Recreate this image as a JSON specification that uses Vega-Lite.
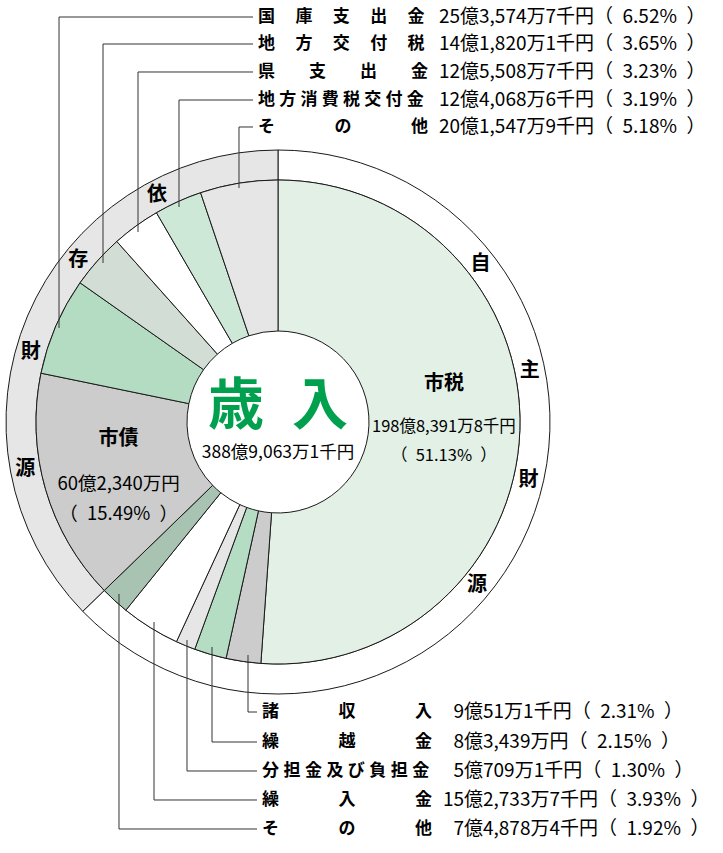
{
  "$schema": "https://vega.github.io/schema/vega-lite/v6.json",
  "width": 556,
  "height": 844,
  "autosize": {"type": "none"},
  "padding": {"left": 0, "top": 0, "right": 167, "bottom": 9},
  "background": "white",
  "config": {"view": {"stroke": null}},
  "datasets": {
    "items": [
      {"key": "k01", "name": "市税", "label": "市税", "grp": "自主財源", "ord": 1, "v": 19883918, "pct": 51.13},
      {"key": "k02", "name": "諸収入", "label": "諸\u3000\u3000\u3000\u2002収\u3000\u3000\u3000\u2002入", "grp": "自主財源", "ord": 2, "v": 900511, "pct": 2.31},
      {"key": "k03", "name": "繰越金", "label": "繰\u3000\u3000\u3000\u2002越\u3000\u3000\u3000\u2002金", "grp": "自主財源", "ord": 3, "v": 834390, "pct": 2.15},
      {"key": "k04", "name": "分担金及び負担金", "label": "分\u2009\u200A担\u2009\u200A金\u2009\u200A及\u2009\u200Aび\u2009\u200A負\u2009\u200A担\u2009\u200A金", "grp": "自主財源", "ord": 4, "v": 507091, "pct": 1.30},
      {"key": "k05", "name": "繰入金", "label": "繰\u3000\u3000\u3000\u2002入\u3000\u3000\u3000\u2002金", "grp": "自主財源", "ord": 5, "v": 1527337, "pct": 3.93},
      {"key": "k06", "name": "その他", "label": "そ\u3000\u3000\u3000\u2002の\u3000\u3000\u3000\u2002他", "grp": "自主財源", "ord": 6, "v": 748784, "pct": 1.92},
      {"key": "k07", "name": "市債", "label": "市債", "grp": "依存財源", "ord": 7, "v": 6023400, "pct": 15.49},
      {"key": "k08", "name": "国庫支出金", "label": "国\u3000\u2009庫\u3000\u2009支\u3000\u2009出\u3000\u2009金", "grp": "依存財源", "ord": 8, "v": 2535747, "pct": 6.52},
      {"key": "k09", "name": "地方交付税", "label": "地\u3000\u2009方\u3000\u2009交\u3000\u2009付\u3000\u2009税", "grp": "依存財源", "ord": 9, "v": 1418201, "pct": 3.65},
      {"key": "k10", "name": "県支出金", "label": "県\u3000\u3000支\u3000\u3000出\u3000\u3000金", "grp": "依存財源", "ord": 10, "v": 1255087, "pct": 3.23},
      {"key": "k11", "name": "地方消費税交付金", "label": "地\u2005方\u2005消\u2005費\u2005税\u2005交\u2005付\u2005金", "grp": "依存財源", "ord": 11, "v": 1240686, "pct": 3.19},
      {"key": "k12", "name": "その他", "label": "そ\u3000\u3000\u3000\u2002の\u3000\u3000\u3000\u2002他", "grp": "依存財源", "ord": 12, "v": 2015479, "pct": 5.18}
    ],
    "leaders": [
      {"key": "k08", "s": 0, "u": -0.8051, "v": 0.3456}, {"key": "k08", "s": 1, "u": -0.8051, "v": 1.4890}, {"key": "k08", "s": 2, "u": -0.0919, "v": 1.4890},
      {"key": "k09", "s": 0, "u": -0.6434, "v": 0.5846}, {"key": "k09", "s": 1, "u": -0.6434, "v": 1.3897}, {"key": "k09", "s": 2, "u": -0.0919, "v": 1.3897},
      {"key": "k10", "s": 0, "u": -0.5147, "v": 0.6985}, {"key": "k10", "s": 1, "u": -0.5147, "v": 1.2868}, {"key": "k10", "s": 2, "u": -0.0919, "v": 1.2868},
      {"key": "k11", "s": 0, "u": -0.3640, "v": 0.7904}, {"key": "k11", "s": 1, "u": -0.3640, "v": 1.1838}, {"key": "k11", "s": 2, "u": -0.0919, "v": 1.1838},
      {"key": "k12", "s": 0, "u": -0.1434, "v": 0.8603}, {"key": "k12", "s": 1, "u": -0.1434, "v": 1.0846}, {"key": "k12", "s": 2, "u": -0.0919, "v": 1.0846},
      {"key": "k02", "s": 0, "u": -0.1103, "v": -0.8566}, {"key": "k02", "s": 1, "u": -0.1103, "v": -1.0662}, {"key": "k02", "s": 2, "u": -0.0772, "v": -1.0662},
      {"key": "k03", "s": 0, "u": -0.2426, "v": -0.8272}, {"key": "k03", "s": 1, "u": -0.2426, "v": -1.1765}, {"key": "k03", "s": 2, "u": -0.0772, "v": -1.1765},
      {"key": "k04", "s": 0, "u": -0.3346, "v": -0.8015}, {"key": "k04", "s": 1, "u": -0.3346, "v": -1.2831}, {"key": "k04", "s": 2, "u": -0.0772, "v": -1.2831},
      {"key": "k05", "s": 0, "u": -0.4559, "v": -0.7353}, {"key": "k05", "s": 1, "u": -0.4559, "v": -1.3897}, {"key": "k05", "s": 2, "u": -0.0772, "v": -1.3897},
      {"key": "k06", "s": 0, "u": -0.5846, "v": -0.6324}, {"key": "k06", "s": 1, "u": -0.5846, "v": -1.4963}, {"key": "k06", "s": 2, "u": -0.0772, "v": -1.4963}
    ],
    "ring": [
      {"ch": "自", "deg": 52}, {"ch": "主", "deg": 78.5}, {"ch": "財", "deg": 103}, {"ch": "源", "deg": 129.3},
      {"ch": "依", "deg": 331.9}, {"ch": "存", "deg": 309}, {"ch": "財", "deg": 285.8}, {"ch": "源", "deg": 259.5}
    ]
  },
  "resolve": {"scale": {"theta": "independent", "color": "independent"}},
  "layer": [
    {
      "data": {"name": "items"},
      "transform": [{"aggregate": [{"op": "sum", "field": "v", "as": "v"}, {"op": "min", "field": "ord", "as": "ord"}], "groupby": ["grp"]}],
      "mark": {"type": "arc", "outerRadius": 272, "innerRadius": 242, "stroke": "#1a1a1a", "strokeWidth": 1},
      "encoding": {
        "theta": {"field": "v", "type": "quantitative", "stack": true},
        "order": {"field": "ord", "type": "quantitative"},
        "color": {"field": "grp", "type": "nominal", "scale": {"domain": ["自主財源", "依存財源"], "range": ["#ffffff", "#e6e6e6"]}, "legend": null}
      }
    },
    {
      "data": {"name": "items"},
      "mark": {"type": "arc", "outerRadius": 242, "innerRadius": 91, "stroke": "#1a1a1a", "strokeWidth": 1},
      "encoding": {
        "theta": {"field": "v", "type": "quantitative", "stack": true},
        "order": {"field": "ord", "type": "quantitative"},
        "color": {"field": "key", "type": "nominal", "scale": {"domain": ["k01","k02","k03","k04","k05","k06","k07","k08","k09","k10","k11","k12"], "range": ["#e2f0e6","#cccccc","#b4ddc4","#e6e6e6","#ffffff","#a9c3b3","#cccccc","#b3dcc2","#d1ddd5","#ffffff","#cde8d7","#e6e6e6"]}, "legend": null}
      }
    },
    {
      "data": {"name": "leaders"},
      "mark": {"type": "line", "color": "#333333", "strokeWidth": 1},
      "encoding": {
        "x": {"field": "u", "type": "quantitative", "scale": {"domain": [-1.0221, 1.0221], "nice": false, "zero": false}, "axis": null},
        "y": {"field": "v", "type": "quantitative", "scale": {"domain": [-1.5515, 1.5515], "nice": false, "zero": false}, "axis": null},
        "detail": {"field": "key"},
        "order": {"field": "s", "type": "quantitative"}
      }
    },
    {
      "data": {"name": "ring"},
      "mark": {"type": "text", "radius": 257, "font": "Noto Sans CJK JP", "fontWeight": "bold", "fontSize": 20, "color": "#000000", "align": "center", "baseline": "middle"},
      "encoding": {
        "theta": {"field": "deg", "type": "quantitative", "scale": {"domain": [0, 360], "range": [0, 6.283185], "zero": true, "nice": false}},
        "text": {"field": "ch"}
      }
    },
    {
      "data": {"name": "items"},
      "mark": {"type": "text", "radius": 166, "dy": -44, "font": "Noto Sans CJK JP", "fontWeight": "bold", "fontSize": 20, "color": "#000000", "align": "center", "baseline": "middle"},
      "encoding": {
        "theta": {"field": "v", "type": "quantitative", "stack": true},
        "order": {"field": "ord", "type": "quantitative"},
        "text": {"condition": {"test": "datum.key === 'k01'", "field": "name"}, "value": ""}
      }
    },
    {
      "data": {"name": "items"},
      "transform": [
        {"calculate": "floor(datum.v/100000) + '億' + format(floor((datum.v%100000)/10), ',') + '万' + (datum.v%10 > 0 ? (datum.v%10) + '千' : '') + '円'", "as": "amt"},
        {"calculate": "datum.amt + '\\n' + '（\u2002' + format(datum.pct, '.2f') + '%\u2002）'", "as": "det"}
      ],
      "mark": {"type": "text", "radius": 166, "dy": -1, "lineBreak": "\n", "lineHeight": 29, "font": "Noto Sans CJK JP", "fontSize": 16.5, "color": "#000000", "align": "center", "baseline": "middle"},
      "encoding": {
        "theta": {"field": "v", "type": "quantitative", "stack": true},
        "order": {"field": "ord", "type": "quantitative"},
        "text": {"condition": {"test": "datum.key === 'k01'", "field": "det"}, "value": ""}
      }
    },
    {
      "data": {"name": "items"},
      "mark": {"type": "text", "radius": 166, "dy": -29, "font": "Noto Sans CJK JP", "fontWeight": "bold", "fontSize": 20, "color": "#000000", "align": "center", "baseline": "middle"},
      "encoding": {
        "theta": {"field": "v", "type": "quantitative", "stack": true},
        "order": {"field": "ord", "type": "quantitative"},
        "text": {"condition": {"test": "datum.key === 'k07'", "field": "name"}, "value": ""}
      }
    },
    {
      "data": {"name": "items"},
      "transform": [
        {"calculate": "floor(datum.v/100000) + '億' + format(floor((datum.v%100000)/10), ',') + '万' + (datum.v%10 > 0 ? (datum.v%10) + '千' : '') + '円'", "as": "amt"},
        {"calculate": "datum.amt + '\\n' + '（\u2002' + format(datum.pct, '.2f') + '%\u2002）'", "as": "det"}
      ],
      "mark": {"type": "text", "radius": 166, "dy": 16, "lineBreak": "\n", "lineHeight": 30, "font": "Noto Sans CJK JP", "fontSize": 18.5, "color": "#000000", "align": "center", "baseline": "middle"},
      "encoding": {
        "theta": {"field": "v", "type": "quantitative", "stack": true},
        "order": {"field": "ord", "type": "quantitative"},
        "text": {"condition": {"test": "datum.key === 'k07'", "field": "det"}, "value": ""}
      }
    },
    {
      "data": {"name": "items"},
      "transform": [{"aggregate": [{"op": "sum", "field": "v", "as": "v"}]}],
      "mark": {"type": "text", "text": "歳\u2002入", "dy": -15, "font": "Noto Sans CJK JP", "fontWeight": "bold", "fontSize": 56, "color": "#00a04e", "align": "center", "baseline": "middle"}
    },
    {
      "data": {"name": "items"},
      "transform": [
        {"aggregate": [{"op": "sum", "field": "v", "as": "v"}]},
        {"calculate": "floor(datum.v/100000) + '億' + format(floor((datum.v%100000)/10), ',') + '万' + (datum.v%10 > 0 ? (datum.v%10) + '千' : '') + '円'", "as": "amt"}
      ],
      "mark": {"type": "text", "dy": 31, "font": "Noto Sans CJK JP", "fontSize": 17.5, "color": "#000000", "align": "center", "baseline": "middle"},
      "encoding": {"text": {"field": "amt"}}
    },
    {
      "data": {"name": "leaders"},
      "transform": [
        {"filter": "datum.s === 2"},
        {"lookup": "key", "from": {"data": {"name": "items"}, "key": "key", "fields": ["label", "pct"]}}
      ],
      "mark": {"type": "text", "dx": 5, "font": "Noto Sans CJK JP", "fontWeight": "bold", "fontSize": 17, "color": "#000000", "align": "left", "baseline": "middle"},
      "encoding": {
        "x": {"field": "u", "type": "quantitative", "scale": {"domain": [-1.0221, 1.0221], "nice": false, "zero": false}, "axis": null},
        "y": {"field": "v", "type": "quantitative", "scale": {"domain": [-1.5515, 1.5515], "nice": false, "zero": false}, "axis": null},
        "text": {"field": "label"}
      }
    },
    {
      "data": {"name": "leaders"},
      "transform": [
        {"filter": "datum.s === 2"},
        {"lookup": "key", "from": {"data": {"name": "items"}, "key": "key", "fields": ["v", "pct"]}, "as": ["amount", "pct"]},
        {"calculate": "'' + floor(datum.amount/100000)", "as": "oku"}
      ],
      "mark": {"type": "text", "dx": 207, "font": "Noto Sans CJK JP", "fontSize": 19, "color": "#000000", "align": "right", "baseline": "middle"},
      "encoding": {
        "x": {"field": "u", "type": "quantitative", "scale": {"domain": [-1.0221, 1.0221], "nice": false, "zero": false}, "axis": null},
        "y": {"field": "v", "type": "quantitative", "scale": {"domain": [-1.5515, 1.5515], "nice": false, "zero": false}, "axis": null},
        "text": {"field": "oku"}
      }
    },
    {
      "data": {"name": "leaders"},
      "transform": [
        {"filter": "datum.s === 2"},
        {"lookup": "key", "from": {"data": {"name": "items"}, "key": "key", "fields": ["v", "pct"]}, "as": ["amount", "pct"]},
        {"calculate": "'億' + format(floor((datum.amount%100000)/10), ',') + '万' + (datum.amount%10 > 0 ? (datum.amount%10) + '千' : '') + '円（\u2002' + format(datum.pct, '.2f') + '%\u2002）'", "as": "rest"}
      ],
      "mark": {"type": "text", "dx": 207, "font": "Noto Sans CJK JP", "fontSize": 19, "color": "#000000", "align": "left", "baseline": "middle"},
      "encoding": {
        "x": {"field": "u", "type": "quantitative", "scale": {"domain": [-1.0221, 1.0221], "nice": false, "zero": false}, "axis": null},
        "y": {"field": "v", "type": "quantitative", "scale": {"domain": [-1.5515, 1.5515], "nice": false, "zero": false}, "axis": null},
        "text": {"field": "rest"}
      }
    }
  ]
}
